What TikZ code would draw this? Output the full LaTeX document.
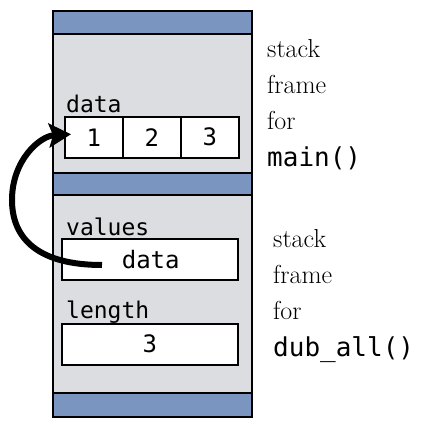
\documentclass[tikz,border=0pt]{standalone}
\usepackage{fontspec}
\setmonofont{DejaVu Sans Mono}
\usetikzlibrary{arrows.meta}
\definecolor{bandblue}{RGB}{122,150,192}
\definecolor{framegrey}{RGB}{220,221,225}
\begin{document}
\begin{tikzpicture}[x=1pt,y=-1pt,
 box/.style={draw=black, line width=1.5pt, inner sep=0pt, anchor=north west},
 band/.style={box, fill=bandblue, minimum width=199pt},
 region/.style={box, fill=framegrey, minimum width=199pt},
 cell/.style={box, fill=white, minimum height=41pt, font=\fontsize{24}{24}\selectfont\ttfamily},
 lbl/.style={anchor=base west, inner sep=0pt, font=\fontsize{23}{23}\selectfont\ttfamily},
 note/.style={anchor=base west, inner sep=0pt, font=\fontsize{26}{26}\selectfont},
 notett/.style={note, font=\fontsize{26}{26}\selectfont\ttfamily},
 ptr/.style={line width=6pt, -{Stealth[length=22pt,width=24pt,inset=4pt]}}]
\useasboundingbox (0,0) rectangle (426,426);
% frames
\node[region, minimum height=139pt] (upper) at (52,33) {};
\node[region, minimum height=198pt] (lower) at (52,194) {};
\node[band, minimum height=23pt] (topband) at (52,10) {};
\node[band, minimum height=22pt] (midband) at (52,172) {};
\node[band, minimum height=24pt] (botband) at (52,392) {};
% main frame content
\node[lbl] (datalbl) at (66,112) {data};
\node[cell, minimum width=58pt] (cell1) at (64,116) {1};
\node[cell, minimum width=58pt] (cell2) at (122,116) {2};
\node[cell, minimum width=58pt] (cell3) at (180,116) {3};
% dub_all frame content
\node[lbl] (valueslbl) at (66,235) {values};
\node[cell, minimum width=176pt] (valuesbox) at (61,238) {\hspace{2pt}data};
\node[lbl] (lengthlbl) at (66,318) {length};
\node[cell, minimum width=176pt] (lengthbox) at (61,323) {3};
% notes
\node[note] (n1) at (267,57) {stack};
\node[note] (n2) at (267,93) {frame};
\node[note] (n3) at (267,129) {for};
\node[notett] (n4) at (267,166) {main()};
\node[note] (m1) at (273,247) {stack};
\node[note] (m2) at (273,283) {frame};
\node[note] (m3) at (273,319) {for};
\node[notett] (m4) at (273,356) {dub\_all()};
% pointer
\coordinate (ptrstart) at (102,265);
\draw[ptr] (ptrstart) .. controls (40,265) and (12,240) .. (12,200)
  .. controls (12,160) and (40,136) .. ([xshift=7pt,yshift=3pt]cell1.west);
\end{tikzpicture}
\end{document}
